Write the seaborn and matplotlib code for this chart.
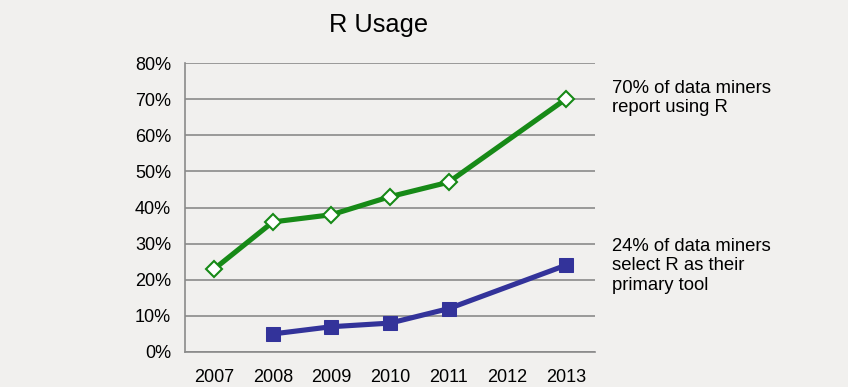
import matplotlib
matplotlib.use("Agg")
import matplotlib.pyplot as plt
import seaborn as sns
import pandas as pd

# data
years_all = [2007, 2008, 2009, 2010, 2011, 2012, 2013]
years_use = [2007, 2008, 2009, 2010, 2011, 2013]
pct_use = [23, 36, 38, 43, 47, 70]
years_primary = [2008, 2009, 2010, 2011, 2013]
pct_primary = [5, 7, 8, 12, 24]
y_ticks = [0, 10, 20, 30, 40, 50, 60, 70, 80]

BG = "#f1f0ee"
GREEN = "#178a17"
BLUE = "#33339a"

sns.set_style("white")
plt.rcParams['font.family'] = ['Liberation Sans', 'DejaVu Sans']
plt.rcParams['text.color'] = 'black'
plt.rcParams['xtick.labelcolor'] = 'black'
plt.rcParams['ytick.labelcolor'] = 'black'

fig = plt.figure(figsize=(8.48, 3.87), dpi=100, facecolor=BG)
ax = fig.add_axes([185 / 848, 1 - 352 / 387, 410 / 848, 289 / 387])
ax.set_facecolor(BG)

df_use = pd.DataFrame({"year": years_use, "pct": pct_use})
df_pri = pd.DataFrame({"year": years_primary, "pct": pct_primary})

sns.lineplot(data=df_use, x="year", y="pct", ax=ax, color=GREEN, linewidth=3.7,
             marker="D", markersize=8.5, markerfacecolor="white",
             markeredgecolor=GREEN, markeredgewidth=1.5, zorder=4)
sns.lineplot(data=df_pri, x="year", y="pct", ax=ax, color=BLUE, linewidth=3.7,
             marker="s", markersize=10.5, markerfacecolor=BLUE,
             markeredgecolor=BLUE, zorder=4)

ax.set_xlim(years_all[0] - 0.5, years_all[-1] + 0.5)
ax.set_ylim(0, 80)
ax.set_yticks(y_ticks)
ax.set_yticklabels([f"{v}%" for v in y_ticks], fontsize=13)
ax.set_xticks(years_all)
ax.set_xticklabels([str(y) for y in years_all], fontsize=13)
ax.set_xticks([y - 0.5 for y in years_all] + [years_all[-1] + 0.5], minor=True)
ax.tick_params(axis="x", which="major", length=0, pad=12)
ax.tick_params(axis="x", which="minor", length=5, color="#888888", width=1)
ax.tick_params(axis="y", length=5, color="#888888", width=1, pad=5)
ax.set_xlabel("")
ax.set_ylabel("")

ax.grid(axis="y", color="#8a8a8a", linewidth=1.2)
ax.grid(axis="x", visible=False)
for s in ["top", "right"]:
    ax.spines[s].set_visible(False)
ax.spines["left"].set_color("#8a8a8a")
ax.spines["bottom"].set_color("#8a8a8a")
ax.spines["left"].set_linewidth(1.2)
ax.spines["bottom"].set_linewidth(1.2)

fig.text(379 / 848, 1 - 25 / 387, "R Usage", ha="center", va="center", fontsize=18.3)
fig.text(612 / 848, 1 - 98 / 387, "70% of data miners\nreport using R",
         ha="left", va="center", fontsize=13.3, linespacing=1.2)
fig.text(612 / 848, 1 - 266 / 387, "24% of data miners\nselect R as their\nprimary tool",
         ha="left", va="center", fontsize=13.3, linespacing=1.2)

fig.savefig("out.png", dpi=100, facecolor=BG)
